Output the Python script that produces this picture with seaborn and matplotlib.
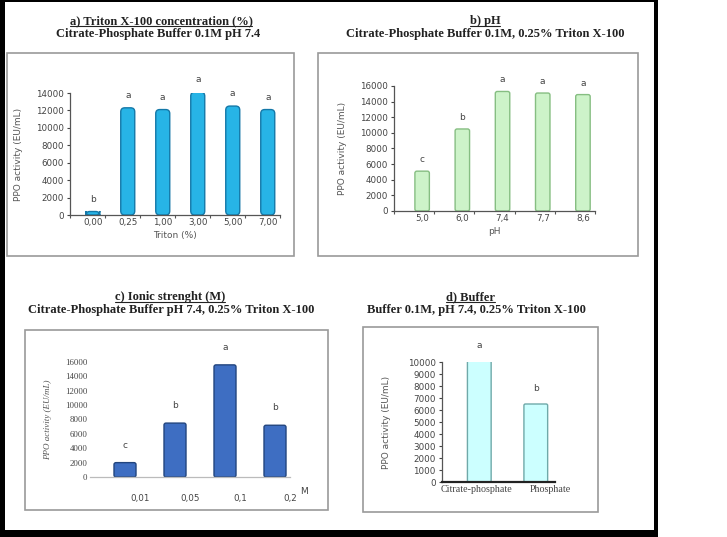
import matplotlib
matplotlib.use('Agg')
import matplotlib.pyplot as plt
import seaborn as sns
import pandas as pd
import numpy as np
from matplotlib.patches import Rectangle, FancyBboxPatch
from matplotlib.lines import Line2D

# a) Triton concentration
triton_cats = ['0,00', '0,25', '1,00', '3,00', '5,00', '7,00']
triton_vals = [400, 12300, 12100, 14100, 12500, 12100]
triton_letters = ['b', 'a', 'a', 'a', 'a', 'a']

# b) pH
ph_cats = ['5,0', '6,0', '7,4', '7,7', '8,6']
ph_vals = [5100, 10500, 15300, 15100, 14900]
ph_letters = ['c', 'b', 'a', 'a', 'a']

# c) ionic strength
ionic_cats = ['0,01', '0,05', '0,1', '0,2']
ionic_vals = [2000, 7500, 15600, 7200]
ionic_letters = ['c', 'b', 'a', 'b']

# d) buffer
buffer_cats = ['Citrate-phosphate', 'Phosphate']
buffer_vals = [10100, 6500]
buffer_letters = ['a', 'b']

sns.set_style('white')
plt.rcParams['font.family'] = ['DejaVu Sans']

W, H = 727, 537
fig = plt.figure(figsize=(W / 100, H / 100), dpi=100)
fig.patch.set_facecolor('white')


def px(x, y, w, h):
    # pixel box (top-left origin) -> figure fraction rect
    return [x / W, 1 - (y + h) / H, w / W, h / H]


# outer black frame
for r in [(0, 0, 5, 537), (0, 530, 658, 7), (654, 0, 4, 537), (0, 0, 658, 1.5)]:
    fig.add_artist(Rectangle((r[0] / W, 1 - (r[1] + r[3]) / H), r[2] / W, r[3] / H,
                             transform=fig.transFigure, color='black', lw=0))

# panel boxes
for r in [(7, 53, 287, 203), (318, 53, 320, 203), (25, 330, 303, 180), (363, 327, 235, 185)]:
    fig.add_artist(Rectangle((r[0] / W, 1 - (r[1] + r[3]) / H), r[2] / W, r[3] / H,
                             transform=fig.transFigure, fill=False, ec='#9a9a9a', lw=1.2))

title_kw = dict(family='Liberation Serif', weight='bold', fontsize=9.0, color='#222222',
                ha='center', va='baseline')
underlined = []
underlined.append(fig.text(161 / W, 1 - 24 / H, 'a) Triton X-100 concentration (%)', **title_kw))
fig.text(158 / W, 1 - 37 / H, 'Citrate-Phosphate Buffer 0.1M pH 7.4', **title_kw)
underlined.append(fig.text(485 / W, 1 - 24 / H, 'b) pH', **title_kw))
fig.text(485 / W, 1 - 37 / H, 'Citrate-Phosphate Buffer 0.1M, 0.25% Triton X-100', **title_kw)
underlined.append(fig.text(170 / W, 1 - 300 / H, 'c) Ionic strenght (M)', **title_kw))
fig.text(171 / W, 1 - 313 / H, 'Citrate-Phosphate Buffer pH 7.4, 0.25% Triton X-100', **title_kw)
underlined.append(fig.text(470 / W, 1 - 300 / H, 'd) Buffer', **title_kw))
fig.text(476 / W, 1 - 313 / H, 'Buffer 0.1M, pH 7.4, 0.25% Triton X-100', **title_kw)


def panel(rect, cats, vals, letters, fill, edge, width, ylim, step, xshift,
          xlabel=None, label_style=None, lpad=8, letter_off=900, round_px=0):
    ax = fig.add_axes(rect)
    df = pd.DataFrame({'cat': cats, 'val': vals})
    sns.barplot(data=df, x='cat', y='val', ax=ax, color=fill, width=width,
                edgecolor=edge, linewidth=1.0, saturation=1)
    ax.set_xlim(-0.5 - xshift, len(cats) - 0.5 - xshift)
    ax.set_ylim(0, ylim)
    ax.set_yticks(np.arange(0, ylim + 1, step))
    ax.set_ylabel('PPO activity (EU/mL)', fontsize=6.5, color='#555555', labelpad=lpad,
                  **(label_style or {}))
    ax.set_xlabel(xlabel or '', fontsize=6.5, color='#555555', labelpad=3)
    ax.tick_params(axis='both', labelsize=6.3, colors='#444444', length=2.5, width=0.8,
                   pad=2, left=True)
    ax.tick_params(axis='x', length=0)
    for s in ['top', 'right']:
        ax.spines[s].set_visible(False)
    for s in ['left', 'bottom']:
        ax.spines[s].set_color('#555555')
        ax.spines[s].set_linewidth(0.9)
    for i, (v, t) in enumerate(zip(vals, letters)):
        ax.text(i, v + letter_off, t, ha='center', va='bottom', fontsize=6.5,
                color='#444444', clip_on=False)
    if round_px:
        # swap the flat bars for rounded ones (cylinder look)
        xs = (ax.get_xlim()[1] - ax.get_xlim()[0]) / (rect[2] * W)
        ys = ylim / (rect[3] * H)
        for p in list(ax.patches):
            fb = FancyBboxPatch((p.get_x(), p.get_y()), p.get_width(), p.get_height(),
                                boxstyle=f'round,pad=0,rounding_size={round_px * xs}',
                                mutation_aspect=ys / xs, fc=p.get_facecolor(),
                                ec=edge, lw=1.0)
            p.remove()
            ax.add_patch(fb)
    return ax


ax_a = panel(px(70, 93, 210, 122), triton_cats, triton_vals, triton_letters,
             '#27B4E6', '#1478A8', 0.40, 14000, 2000, 0.15, 'Triton (%)', lpad=9,
             round_px=4)
ax_b = panel(px(394, 86, 201, 125), ph_cats, ph_vals, ph_letters,
             '#CDF3C9', '#86BE82', 0.36, 16000, 2000, 0.2, 'pH', lpad=9, round_px=2)
ax_c = panel(px(90, 362, 200, 115), ionic_cats, ionic_vals, ionic_letters,
             '#3E6EC2', '#22457E', 0.44, 16000, 2000, 0.2,
             label_style=dict(family='Liberation Serif', style='italic'),
             lpad=9, letter_off=1800, round_px=2)
ax_d = panel(px(442, 362, 113, 120), buffer_cats, buffer_vals, buffer_letters,
             '#CCFFFF', '#6FA9A9', 0.42, 10000, 1000, 0.16, lpad=12, round_px=1.5)

# small separator ticks on the category axes of a) and b)
for ax, n, sh in [(ax_a, len(triton_cats), 0.15), (ax_b, len(ph_cats), 0.2)]:
    ax.set_xticks(np.arange(n + 1) - 0.5 - sh, minor=True)
    ax.tick_params(axis='x', which='minor', bottom=True, length=2.5, width=0.8,
                   color='#555555')

# c) panel: no y spine, light baseline, labels offset right, unit "M"
ax_c.spines['left'].set_visible(False)
ax_c.spines['bottom'].set_color('#bbbbbb')
ax_c.tick_params(axis='y', length=0)
ax_c.set_xticks(np.arange(len(ionic_cats)) + 0.3, ionic_cats)
ax_c.tick_params(axis='x', pad=12)
ax_c.text(1.05, -0.13, 'M', transform=ax_c.transAxes, fontsize=6.5, color='#444444',
          ha='left', va='center')
for lab in ax_c.get_yticklabels():
    lab.set_family('Liberation Serif')

# d) panel: thick dark baseline, serif x labels a bit spread apart
ax_d.spines['bottom'].set_color('#222222')
ax_d.spines['bottom'].set_linewidth(1.6)
ax_d.set_xticks(np.arange(len(buffer_cats)) + np.array([-0.05, 0.25]), buffer_cats)
for lab in ax_d.get_xticklabels():
    lab.set_family('Liberation Serif')
    lab.set_fontsize(7.2)

# underline the first title lines
fig.canvas.draw()
rend = fig.canvas.get_renderer()
for t in underlined:
    bb = t.get_window_extent(renderer=rend)
    y0 = fig.transFigure.transform(t.get_position())[1]
    y = (y0 - 1.5) / fig.bbox.height
    fig.add_artist(Line2D([bb.x0 / fig.bbox.width, bb.x1 / fig.bbox.width], [y, y],
                          transform=fig.transFigure, color='#222222', lw=0.8))

fig.savefig('out.png', dpi=100)
